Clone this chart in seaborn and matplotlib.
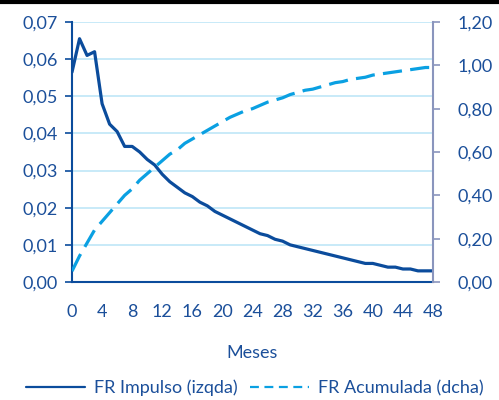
import numpy as np
import pandas as pd
import matplotlib
matplotlib.use("Agg")
import matplotlib.pyplot as plt
from matplotlib.lines import Line2D
import seaborn as sns

sns.set_theme(style="white")
plt.rcParams['font.family'] = ['Lato', 'DejaVu Sans']

months = list(range(49))
impulse = [0.0565, 0.0655, 0.061, 0.062, 0.048, 0.0425, 0.0405, 0.0365, 0.0365, 0.035,
           0.033, 0.0315, 0.029, 0.027, 0.0255, 0.024, 0.023, 0.0215, 0.0205, 0.019,
           0.018, 0.017, 0.016, 0.015, 0.014, 0.013, 0.0125, 0.0115, 0.011, 0.010,
           0.0095, 0.009, 0.0085, 0.008, 0.0075, 0.007, 0.0065, 0.006, 0.0055, 0.005,
           0.005, 0.0045, 0.004, 0.004, 0.0035, 0.0035, 0.003, 0.003, 0.003]
cumulative = [0.05, 0.12, 0.18, 0.24, 0.28, 0.32, 0.36, 0.40, 0.43, 0.47,
              0.50, 0.53, 0.56, 0.59, 0.61, 0.64, 0.66, 0.68, 0.70, 0.72,
              0.74, 0.76, 0.775, 0.79, 0.80, 0.815, 0.83, 0.84, 0.85, 0.865,
              0.875, 0.885, 0.89, 0.90, 0.91, 0.92, 0.925, 0.935, 0.94, 0.945,
              0.955, 0.96, 0.965, 0.97, 0.975, 0.98, 0.985, 0.99, 0.99]
left_ticks = [0.00, 0.01, 0.02, 0.03, 0.04, 0.05, 0.06, 0.07]
right_ticks = [0.00, 0.20, 0.40, 0.60, 0.80, 1.00, 1.20]
x_ticks = list(range(0, 49, 4))

DARK = "#0b4c9c"
LIGHT = "#0aa0e2"
TEXT = "#1b4f9a"
GRID = "#bfe6f7"
FS = 13

df = pd.DataFrame({"Mes": months, "imp": impulse, "acu": cumulative})

fig = plt.figure(figsize=(4.99, 4.0), dpi=100)
ax = fig.add_axes([0.1443, 0.295, 0.7234, 0.65])
ax2 = ax.twinx()

sns.lineplot(data=df, x="Mes", y="imp", ax=ax, color=DARK, lw=2.3, zorder=3)
sns.lineplot(data=df, x="Mes", y="acu", ax=ax2, color=LIGHT, lw=2.3,
             zorder=3).lines[0].set_dashes([6, 2.6])

ax.set_xlim(0, 48)
ax.set_ylim(0, 0.07)
ax2.set_ylim(0, 1.2)
ax.set_xticks(x_ticks)
ax.set_yticks(left_ticks)
ax2.set_yticks(right_ticks)
ax.set_yticklabels([f"{v:.2f}".replace(".", ",") for v in left_ticks])
ax2.set_yticklabels([f"{v:.2f}".replace(".", ",") for v in right_ticks])

ax.grid(axis="y", color=GRID, lw=1.2)
ax.set_axisbelow(True)
for s in ["top", "right"]:
    ax.spines[s].set_visible(False)
for s in ["top", "left", "bottom"]:
    ax2.spines[s].set_visible(False)
ax.spines["left"].set_color(DARK)
ax.spines["bottom"].set_color(DARK)
ax.spines["left"].set_linewidth(1.5)
ax.spines["bottom"].set_linewidth(1.5)
ax2.spines["right"].set_color("#8a95bd")
ax2.spines["right"].set_linewidth(1.5)

ax.tick_params(axis="x", direction="inout", length=7, width=1.2, color=DARK,
               labelcolor=TEXT, labelsize=FS, pad=12)
ax.tick_params(axis="y", direction="out", length=5, width=1.2, color=DARK,
               labelcolor=TEXT, labelsize=FS, pad=5, left=True)
ax2.tick_params(axis="y", direction="out", length=5, width=1.2, color="#8a95bd",
                labelcolor=TEXT, labelsize=FS, pad=13, right=True)
ax.set_xlabel("Meses", color=TEXT, fontsize=FS, labelpad=18)
ax.set_ylabel("")
ax2.set_ylabel("")

handles = [Line2D([], [], color=DARK, lw=1.6),
           Line2D([], [], color=LIGHT, lw=1.6, dashes=[4, 2.5])]
fig.legend(handles, ["FR Impulso (izqda)", "FR Acumulada (dcha)"],
           loc="center", bbox_to_anchor=(0.51, 0.03), ncol=2, frameon=False,
           fontsize=FS, labelcolor=TEXT, handlelength=3.3, columnspacing=0.7,
           handletextpad=0.45, borderpad=0.2)

fig.add_artist(Line2D([0, 1], [0.996, 0.996], color="black", lw=3,
                      transform=fig.transFigure))

fig.savefig("out.png", dpi=100)
